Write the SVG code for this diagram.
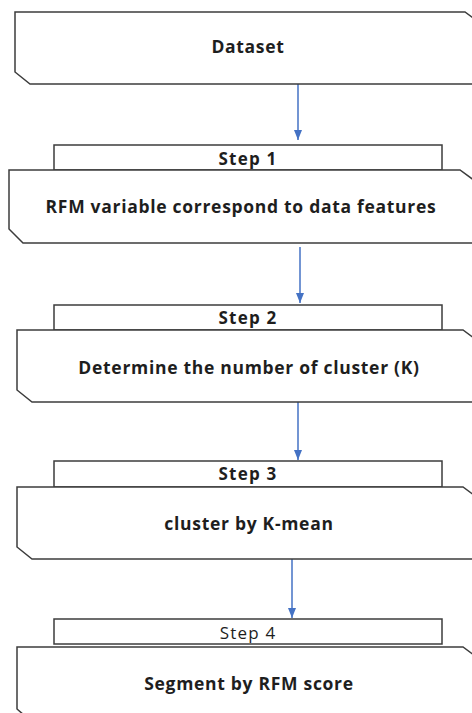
<svg xmlns="http://www.w3.org/2000/svg" width="472" height="713" viewBox="0 0 472 713">
  <defs>
    <style>
      .box { fill: #ffffff; stroke: #3c3c3c; stroke-width: 1.5; }
      .step { fill: #ffffff; stroke: #3c3c3c; stroke-width: 1.5; }
      .label { font-family: "Open Sans", "Noto Sans", "Liberation Sans", sans-serif; font-weight: bold; font-size: 17.5px; letter-spacing: 0.7px; fill: #1e1e1e; text-anchor: middle; }
      .steplabel { font-family: "Open Sans", "Noto Sans", "Liberation Sans", sans-serif; font-weight: bold; font-size: 17px; letter-spacing: 1.2px; fill: #1e1e1e; text-anchor: middle; }
      .regular { font-weight: normal; }
      .link { stroke: #4472C4; stroke-width: 1.5; fill: none; marker-end: url(#arrow); }
    </style>
    <marker id="arrow" viewBox="0 0 10 8" refX="10" refY="4" markerWidth="10" markerHeight="8" markerUnits="userSpaceOnUse" orient="auto">
      <path d="M0,0 L10,4 L0,8 Z" fill="#4472C4"/>
    </marker>
  </defs>
  <rect width="472" height="713" fill="#ffffff"/>

  <g id="connectors">
    <line class="link" x1="298" y1="84" x2="298" y2="140"/>
    <line class="link" x1="300" y1="247" x2="300" y2="303"/>
    <line class="link" x1="298" y1="402" x2="298" y2="460"/>
    <line class="link" x1="292" y1="559" x2="292" y2="618"/>
  </g>

  <g id="dataset">
    <path class="box" d="M15,12 H465 L480,23 V84 H30 L15,72 Z"/>
    <text class="label" x="248" y="53">Dataset</text>
  </g>

  <g id="step1">
    <rect class="step" x="54" y="145" width="388" height="25"/>
    <text class="steplabel" x="248" y="165">Step 1</text>
  </g>
  <g id="rfm-variables">
    <path class="box" d="M9,170 H460 L475,181 V243 H23 L9,229 Z"/>
    <text class="label" x="241" y="213">RFM variable correspond to data features</text>
  </g>

  <g id="step2">
    <rect class="step" x="54" y="305" width="388" height="25"/>
    <text class="steplabel" x="248" y="324">Step 2</text>
  </g>
  <g id="cluster-count">
    <path class="box" d="M17,330 H463 L478,341 V402 H32 L17,390 Z"/>
    <text class="label" x="249" y="374">Determine the number of cluster (K)</text>
  </g>

  <g id="step3">
    <rect class="step" x="54" y="461" width="388" height="26"/>
    <text class="steplabel" x="248" y="480">Step 3</text>
  </g>
  <g id="kmeans">
    <path class="box" d="M17,487 H463 L478,498 V559 H32 L17,547 Z"/>
    <text class="label" x="249" y="530">cluster by K-mean</text>
  </g>

  <g id="step4">
    <rect class="step" x="54" y="619" width="388" height="25"/>
    <text class="steplabel regular" x="248" y="639">Step 4</text>
  </g>
  <g id="segment">
    <path class="box" d="M17,647 H463 L478,658 V722 H32 L17,709 Z"/>
    <text class="label" x="249" y="690">Segment by RFM score</text>
  </g>
</svg>
